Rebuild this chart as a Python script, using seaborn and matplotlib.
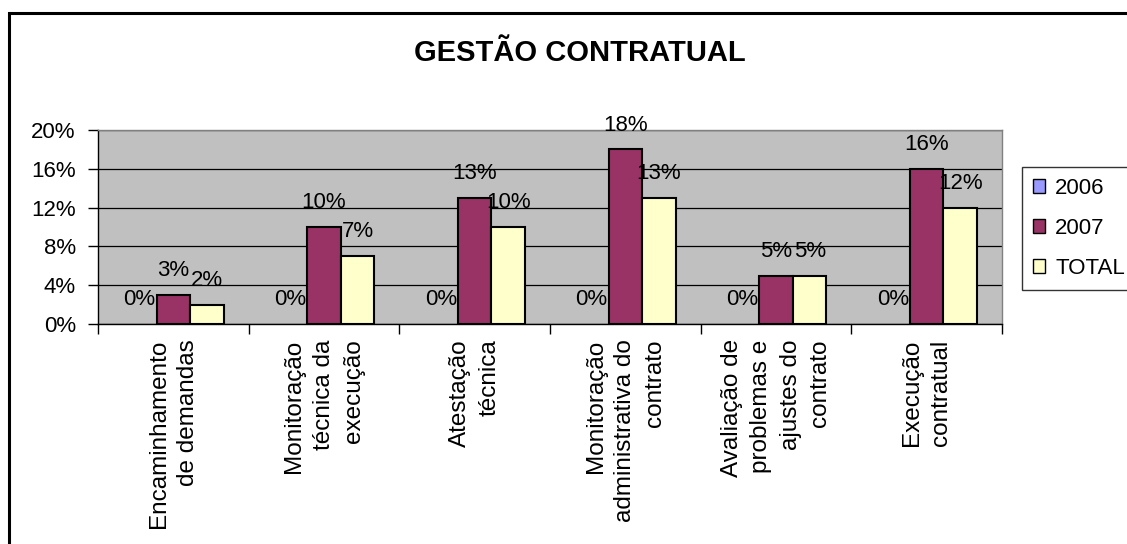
import seaborn as sns
import numpy as np
import matplotlib.pyplot as plt
import pandas as pd
from matplotlib.patches import Rectangle
from matplotlib.ticker import FixedLocator

" DATA "
CATEGORIES = ["Encaminhamento\nde demandas",
              "Monitoração\ntécnica da\nexecução",
              "Atestação\ntécnica",
              "Monitoração\nadministrativa do\ncontrato",
              "Avaliação de\nproblemas e\najustes do\ncontrato",
              "Execução\ncontratual"]
SERIES = ["2006", "2007", "TOTAL"]
V2006 = [0, 0, 0, 0, 0, 0]
V2007 = [3, 10, 13, 18, 5, 16]
VTOTAL = [2, 7, 10, 13, 5, 12]
COLORS = ["#9999FF", "#993366", "#FFFFCC"]
YTICKS = [0, 4, 8, 12, 16, 20]

W, H = 1127, 544
FS = 16

sns.set_theme(style="white")
plt.rcParams['font.family'] = ['Liberation Sans', 'DejaVu Sans']
plt.rcParams['text.color'] = 'black'
plt.rcParams['xtick.color'] = 'black'
plt.rcParams['ytick.color'] = 'black'

df = pd.DataFrame({
    "cat": CATEGORIES * 3,
    "serie": [s for s in SERIES for _ in CATEGORIES],
    "val": V2006 + V2007 + VTOTAL,
})

fig = plt.figure(figsize=(W / 100, H / 100), dpi=100)
ax = fig.add_axes([98 / W, 1 - 324 / H, 904 / W, 194 / H])
ax.set_facecolor("#C0C0C0")

sns.barplot(data=df, x="cat", y="val", hue="serie", palette=COLORS,
            width=0.67, edgecolor="black", linewidth=1.5, saturation=1,
            ax=ax, legend=True, zorder=3)

for cont in ax.containers:
    vals = [b.get_height() for b in cont]
    for b in cont:
        if b.get_height() == 0:
            b.set_linewidth(0)
    ax.bar_label(cont, labels=[f"{v:.0f}%" for v in vals], padding=10,
                 fontsize=FS, color="black")

ax.set_xlim(-0.5, 5.5)
ax.set_ylim(0, 20)
ax.set_yticks(YTICKS)
ax.set_yticklabels([f"{t}%" for t in YTICKS], fontsize=FS)
ax.set_xlabel("")
ax.set_ylabel("")
ax.set_xticks(range(len(CATEGORIES)))
ax.set_xticklabels(CATEGORIES, rotation=90, fontsize=17.5, va="top",
                   ha="center", multialignment="right", linespacing=1.45)
ax.xaxis.set_minor_locator(FixedLocator(np.arange(-0.5, 6, 1)))
ax.tick_params(axis="x", which="major", length=0, pad=11)
ax.tick_params(axis="x", which="minor", length=7, width=1, color="black",
               bottom=True)
ax.tick_params(axis="y", length=7, width=1, color="black", left=True, pad=9)
ax.yaxis.grid(True, color="black", linewidth=0.9, zorder=1)
ax.set_axisbelow(True)
for s in ["left", "bottom"]:
    ax.spines[s].set_color("black")
    ax.spines[s].set_linewidth(1)
for s in ["top", "right"]:
    ax.spines[s].set_color("#808080")
    ax.spines[s].set_linewidth(1)

leg = ax.legend(loc="upper left", bbox_to_anchor=(1.022, 0.81),
                fontsize=FS, frameon=True, fancybox=False, edgecolor="black",
                handlelength=0.55, handleheight=0.55, handletextpad=0.45,
                labelspacing=0.85, borderpad=0.5, borderaxespad=0)
leg.get_frame().set_linewidth(1)
for h in leg.legend_handles:
    h.set_edgecolor("black")
    h.set_linewidth(1)

fig.text(580 / W, 1 - 53 / H, "GESTÃO CONTRATUAL", fontsize=21,
         fontweight="bold", ha="center", va="center")

fig.patches.append(Rectangle((9 / W, -0.2), 1.5, 1 - 13 / H + 0.2,
                             transform=fig.transFigure, fill=False,
                             edgecolor="black", linewidth=2.2))

fig.savefig("out.png", dpi=100)
